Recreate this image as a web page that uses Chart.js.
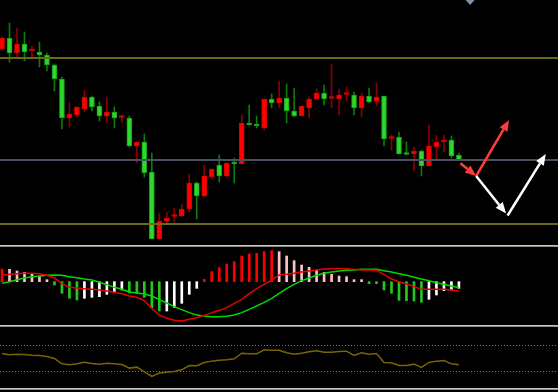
<!DOCTYPE html>
<html>
<head>
<meta charset="utf-8">
<script src="https://cdn.jsdelivr.net/npm/chart.js@4.4.1/dist/chart.umd.min.js"></script>
<style>
  html, body { margin: 0; padding: 0; background: #000; }
  #wrap { position: relative; width: 558px; height: 392px; background: #000; overflow: hidden; }
  canvas { position: absolute; left: 0; }
  #price { top: 0; }
  #macd { top: 246px; }
  #rsi { top: 326px; }
  .sep { position: absolute; left: 0; width: 558px; height: 0; border-top: 1px solid #c4c4c4; border-bottom: 1px solid #8c8c8c; z-index: 2; }
</style>
</head>
<body>
<div id="wrap">
  <canvas id="price" width="558" height="246"></canvas>
  <canvas id="macd" width="558" height="80"></canvas>
  <canvas id="rsi" width="558" height="64"></canvas>
  <div class="sep" style="top:245px"></div>
  <div class="sep" style="top:325px"></div>
  <div class="sep" style="top:388px"></div>
</div>
<script>
// candles (price units)
const opens  = [201,212,197,206,199,198,195,185,171,132,135,141,153,144,134,138,132.5,132,104,108,78,11,29,33.5,34,41,67,54,73,85,74,87,86,127,126,122,151,147,152,139,134,142,151,157,151.5,151,155.5,155,142,154,149,154,111.5,113,97,96,99,84,103,108,110,95];
const highs  = [213,227,222,218,204,208,197,186,173,147,143,160,154,148,153,143,135,134,108,116,97,37,38,42,46,76,68,85,81,95,87,92,135,145,134,151,156,169,166,162,144,153,161,165,186,161,163,158,157,162,167,154,115,118,108,103,100,125,115,115,114,97];
const lows   = [200,188,192,189,193,183,179,159,121,123,133,138,139,129,127,122,127,103,87,73,11,11,27,28,33,38,31,53,71,68,73,67,86,125,122,120,142,142,127,133,134,132,150,145,142,135,149,135,133,147,144,104,100,96,95,79,74,84,91,98,92,90];
const closes = [212,197,206,198,199.5,195,185,171,132,136,143,153,143,134,138,132,133,104,108,77,11,29,32,34.5,41,67,54,74,81,74,87,86,127,125,124,151,147,152,139,134,144,151,157,151,152,155,156,142,154,148,153,111,112,96,95.5,99,84,104,108,110,94,90];

// horizontal price levels
const levelPrices = [192.3, 90, 26.3];

// projection arrows: [x0, p0, x1, p1]
const redArrows   = [[61.2, 86.7, 63.3, 74], [63.3, 74, 67.7, 130]];
const whiteArrows = [[63.3, 74, 67.3, 36.5], [67.5, 34.5, 72.6, 96]];

// MACD
const macdHist   = [38,37,32,28,22,15,5,-10,-35,-50,-55,-50,-47,-45,-38,-33,-25,-33,-35,-47,-78,-88,-88,-77,-65,-38,-20,7,30,42,53,60,77,83,85,90,93,90,77,63,50,43,35,28,22,17,15,5,2,-3,-4,-25,-35,-56,-57,-58,-62,-53,-40,-27,-25,-20];
const macdLine   = [19,22,24,25,25,24,19,11,-6,-17,-19,-21,-23,-25,-28,-32,-36,-43,-47,-57,-80,-100,-110,-116,-118,-113,-108,-101,-93,-86,-78,-65,-53,-36,-21,-8,5,20,22,25,29,32,35,38,39,39,39,37,35,35,34,21,8,0,-7,-15,-23,-23,-23,-23,-25,-28];
const signalLine = [-5,0,6,11,15,17,19,20,19,15,12,8,5,-2,-9,-17,-23,-31,-34,-37,-43,-54,-64,-75,-84,-93,-100,-103,-105,-105,-104,-100,-93,-83,-73,-62,-50,-35,-21,-8,3,11,19,25,29,32,34,35,37,37,37,33,29,24,19,13,8,3,-3,-8,-13,-18];

// RSI
const rsiValues = [57,55,56,55.5,54.4,53.9,52.3,49.2,40.9,39.4,40.9,43.5,41.4,40.4,41.9,40.9,39.9,34.2,35.7,28.4,21.2,26.4,27.9,29,31.6,38.3,37.8,43,45.1,46.6,47.1,48.7,57.5,56.5,56.5,62.7,62.2,62.2,58.1,56,57.5,59.6,61.2,59.1,59.1,60.1,60.6,53.9,58.1,56,57,43,42.5,38.3,38.3,40.4,35.2,43,45.1,46.1,40.9,39.4];
const rsiLevels = [70, 30];

const markerAt = 62.5; // shift marker on the time axis

const X_MIN = -0.27, X_MAX = 74.23;
const idx = opens.map((_, i) => i);
const isUp = i => closes[i] >= opens[i];

function baseOptions(yMin, yMax) {
    return {
        responsive: false,
        animation: false,
        devicePixelRatio: 1,
        layout: { padding: 0 },
        plugins: { legend: { display: false }, tooltip: { enabled: false } },
        scales: {
            x: { type: 'linear', min: X_MIN, max: X_MAX, display: false, offset: false, grid: { offset: false } },
            y: { min: yMin, max: yMax, display: false }
        }
    };
}

function drawArrow(ctx, x0, y0, x1, y1, color) {
    const ang = Math.atan2(y1 - y0, x1 - x0);
    const len = 11, half = 4.5;
    const bx = x1 - len * Math.cos(ang), by = y1 - len * Math.sin(ang);
    ctx.strokeStyle = color;
    ctx.fillStyle = color;
    ctx.lineWidth = 2.5;
    ctx.beginPath(); ctx.moveTo(x0, y0); ctx.lineTo(bx, by); ctx.stroke();
    ctx.beginPath();
    ctx.moveTo(x1, y1);
    ctx.lineTo(bx + half * Math.sin(ang), by - half * Math.cos(ang));
    ctx.lineTo(bx - half * Math.sin(ang), by + half * Math.cos(ang));
    ctx.closePath();
    ctx.fill();
}

// levels, arrows and marker on the price panel
const priceDecor = {
    id: 'priceDecor',
    afterDatasetsDraw(chart) {
        const { ctx, chartArea, scales: { x, y } } = chart;
        const levelColors = ['#6c6914', '#4a5160', '#6c6914'];
        ctx.save();
        levelPrices.forEach((p, k) => {
            const py = Math.round(y.getPixelForValue(p));
            ctx.strokeStyle = levelColors[k];
            ctx.lineWidth = 2;
            ctx.beginPath();
            ctx.moveTo(chartArea.left, py);
            ctx.lineTo(chartArea.right, py);
            ctx.stroke();
        });
        redArrows.forEach(a => drawArrow(ctx, x.getPixelForValue(a[0]), y.getPixelForValue(a[1]), x.getPixelForValue(a[2]), y.getPixelForValue(a[3]), '#ff3c3c'));
        whiteArrows.forEach(a => drawArrow(ctx, x.getPixelForValue(a[0]), y.getPixelForValue(a[1]), x.getPixelForValue(a[2]), y.getPixelForValue(a[3]), '#ffffff'));
        const mx = x.getPixelForValue(markerAt);
        ctx.fillStyle = '#8090a6';
        ctx.beginPath();
        ctx.moveTo(mx - 4.5, chartArea.top);
        ctx.lineTo(mx + 4.5, chartArea.top);
        ctx.lineTo(mx, chartArea.top + 5);
        ctx.closePath();
        ctx.fill();
        ctx.restore();
    }
};

new Chart(document.getElementById('price'), {
    type: 'bar',
    data: {
        datasets: [{
            label: 'body',
            data: idx.map(i => ({ x: i, y: [opens[i], closes[i]] })),
            backgroundColor: c => isUp(c.dataIndex) ? '#ff0000' : '#2ed62e',
            borderColor: c => isUp(c.dataIndex) ? '#d80000' : '#169f16',
            borderWidth: 1,
            borderSkipped: false,
            barThickness: 5,
            minBarLength: 2,
            grouped: false,
            order: 0
        }, {
            label: 'wick',
            data: idx.map(i => ({ x: i, y: [lows[i], highs[i]] })),
            backgroundColor: c => isUp(c.dataIndex) ? '#8a0000' : '#0c7a0c',
            barThickness: 1,
            grouped: false,
            order: 1
        }]
    },
    options: baseOptions(4, 250),
    plugins: [priceDecor]
});

function histColor(c) {
    const i = c.dataIndex;
    const v = macdHist[i];
    const prev = i > 0 ? macdHist[i - 1] : -Infinity;
    if (v >= 0) return v >= prev ? '#ff0000' : '#ffc0cb';
    return v < prev ? '#22c822' : '#ffffff';
}

new Chart(document.getElementById('macd'), {
    type: 'bar',
    data: {
        datasets: [{
            type: 'line',
            data: idx.map(i => ({ x: i, y: macdLine[i] })),
            borderColor: '#e60000',
            borderWidth: 1.5,
            pointRadius: 0,
            order: 0
        }, {
            type: 'line',
            data: idx.map(i => ({ x: i, y: signalLine[i] })),
            borderColor: '#00d800',
            borderWidth: 1.5,
            pointRadius: 0,
            order: 0
        }, {
            data: idx.map(i => ({ x: i, y: macdHist[i] })),
            backgroundColor: histColor,
            barThickness: 2,
            minBarLength: 2,
            grouped: false,
            order: 1
        }]
    },
    options: baseOptions(-133, 107)
});

const rsiDecor = {
    id: 'rsiDecor',
    beforeDatasetsDraw(chart) {
        const { ctx, chartArea, scales: { y } } = chart;
        ctx.save();
        ctx.strokeStyle = '#7a7a7a';
        ctx.lineWidth = 1;
        ctx.setLineDash([1, 2]);
        rsiLevels.forEach(l => {
            const py = Math.round(y.getPixelForValue(l)) + 0.5;
            ctx.beginPath();
            ctx.moveTo(chartArea.left, py);
            ctx.lineTo(chartArea.right, py);
            ctx.stroke();
        });
        ctx.restore();
    }
};

new Chart(document.getElementById('rsi'), {
    type: 'line',
    data: {
        datasets: [{
            data: idx.map(i => ({ x: i, y: rsiValues[i] })),
            borderColor: '#7a6300',
            borderWidth: 1.5,
            pointRadius: 0
        }]
    },
    options: baseOptions(0, 100),
    plugins: [rsiDecor]
});
</script>
</body>
</html>
